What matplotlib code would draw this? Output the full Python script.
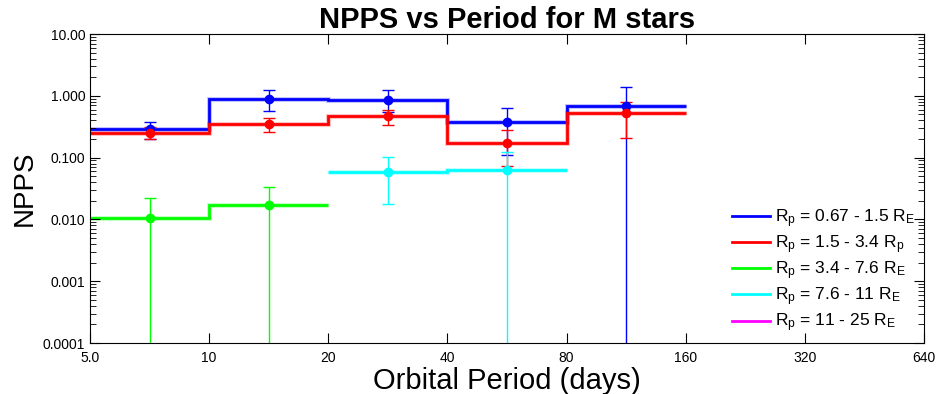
import matplotlib
matplotlib.use('Agg')
import matplotlib.pyplot as plt
import numpy as np

plt.rcParams['font.family'] = ['Liberation Sans', 'DejaVu Sans']
plt.rcParams['mathtext.fontset'] = 'custom'
plt.rcParams['mathtext.rm'] = 'Liberation Sans'
plt.rcParams['mathtext.it'] = 'Liberation Sans'

## bords des bins en periode (jours)
bords = [5, 10, 20, 40, 80, 160]

## valeurs : niveau, erreur haute, erreur basse (None -> jusqu'en bas)
bleu_val = [0.286, 0.89, 0.86, 0.38, 0.69]
bleu_haut = [0.375, 1.25, 1.25, 0.63, 1.40]
bleu_bas = [0.197, 0.56, 0.55, 0.11, None]

rouge_val = [0.25, 0.353, 0.48, 0.175, 0.52]
rouge_haut = [0.31, 0.44, 0.59, 0.275, 0.79]
rouge_bas = [0.197, 0.26, 0.34, 0.073, 0.21]

vert_bords = [5, 10, 20]
vert_val = [0.0106, 0.0168]
vert_haut = [0.0218, 0.034]
vert_bas = [None, None]

cyan_bords = [20, 40, 80]
cyan_val = [0.059, 0.062]
cyan_haut = [0.102, 0.125]
cyan_bas = [0.0175, None]

labels = [r'R$_\mathregular{p}$ = 0.67 - 1.5 R$_\mathregular{E}$',
          r'R$_\mathregular{p}$ = 1.5 - 3.4 R$_\mathregular{p}$',
          r'R$_\mathregular{p}$ = 3.4 - 7.6 R$_\mathregular{E}$',
          r'R$_\mathregular{p}$ = 7.6 - 11 R$_\mathregular{E}$',
          r'R$_\mathregular{p}$ = 11 - 25 R$_\mathregular{E}$']
couleurs = ['#0000ff', '#ff0000', '#00ff00', '#00ffff', '#ff00ff']

xticks = [5, 10, 20, 40, 80, 160, 320, 640]
xticklabels = ['5.0', '10', '20', '40', '80', '160', '320', '640']
yticks = [1e-4, 1e-3, 1e-2, 1e-1, 1, 10]
yticklabels = ['0.0001', '0.001', '0.010', '0.100', '1.000', '10.00']

fig = plt.figure(figsize=(9.38, 3.94), dpi=100)
ax = fig.add_axes([0.096, 0.1294, 0.889, 0.7843])

ymin = 1e-4


def trace(bd, val, haut, bas, c, lab):
    bd = np.array(bd, dtype=float)
    ax.stairs(val, bd, color=c, lw=3.5, alpha=0.25, baseline=None)
    ax.stairs(val, bd, color=c, lw=2, baseline=None)
    xc = np.sqrt(bd[:-1] * bd[1:])
    v = np.array(val)
    lo = np.array([ymin * 0.1 if b is None else b for b in bas])
    ax.errorbar(xc, v, yerr=[v - lo, np.array(haut) - v], fmt='o', color=c,
                ms=6, elinewidth=1, capsize=4, capthick=1)
    ax.plot([], [], color=c, lw=2, label=lab)


trace(bords, bleu_val, bleu_haut, bleu_bas, couleurs[0], labels[0])
trace(bords, rouge_val, rouge_haut, rouge_bas, couleurs[1], labels[1])
trace(vert_bords, vert_val, vert_haut, vert_bas, couleurs[2], labels[2])
trace(cyan_bords, cyan_val, cyan_haut, cyan_bas, couleurs[3], labels[3])
ax.plot([], [], color=couleurs[4], lw=2, label=labels[4])

ax.set_xscale('log')
ax.set_yscale('log')
ax.set_xlim(5, 640)
ax.set_ylim(1e-4, 10)
ax.set_xticks(xticks)
ax.set_xticklabels(xticklabels)
ax.xaxis.set_minor_locator(matplotlib.ticker.NullLocator())
ax.set_yticks(yticks)
ax.set_yticklabels(yticklabels)
ax.yaxis.set_minor_locator(matplotlib.ticker.LogLocator(base=10, subs=np.arange(2, 10)))
ax.yaxis.set_minor_formatter(matplotlib.ticker.NullFormatter())
ax.tick_params(which='both', direction='in', top=True, right=True, labelsize=10)
ax.tick_params(which='major', length=7)
ax.tick_params(which='minor', length=4)
ax.tick_params(axis='x', pad=6)

ax.set_title('NPPS vs Period for M stars', fontsize=21, fontweight='bold', pad=3)
ax.set_xlabel('Orbital Period (days)', fontsize=21, labelpad=1)
ax.set_ylabel('NPPS', fontsize=20, labelpad=4)

ax.legend(loc='lower right', frameon=False, fontsize=12.5, handlelength=2.2,
          labelspacing=0.2, borderaxespad=0.1, handletextpad=0.3)

fig.savefig('out.png', dpi=100)
